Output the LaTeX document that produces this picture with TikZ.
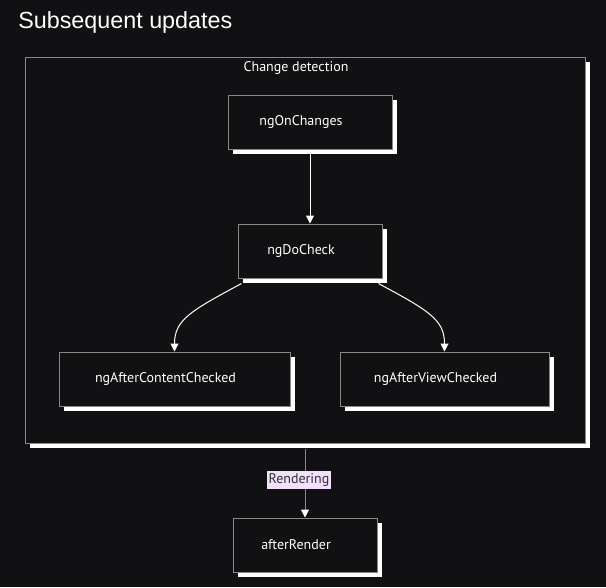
\documentclass[tikz,border=0pt]{standalone}
\usepackage{fontspec}
\setmainfont{PT Sans}
\newfontfamily\titlefont{Liberation Sans}
\usetikzlibrary{arrows.meta,shadows}
\newdimen\pxu \pxu=0.75pt
\definecolor{bgc}{RGB}{17,17,19}
\definecolor{edgec}{RGB}{136,136,136}
\definecolor{lblc}{RGB}{243,224,252}
\tikzset{
  box/.style={draw=edgec, line width=1\pxu, fill=bgc, text=white, inner sep=0pt,
    minimum height=54\pxu, font=\fontsize{10.5pt}{12pt}\selectfont,
    execute at end node=\hspace*{18\pxu},
    drop shadow={shadow xshift=5\pxu, shadow yshift=-5\pxu, fill=white, opacity=1}},
  conn/.style={draw=white, line width=1\pxu, -{Triangle[width=6pt,length=6pt]}},
}
\begin{document}
\begin{tikzpicture}[x=0.75pt, y=-0.75pt]
    \fill[bgc] (0,0) rectangle (606,587);
    \node[anchor=base west, inner sep=0pt, text=white, font=\titlefont\fontsize{17.5pt}{20pt}\selectfont] (title) at (18,28) {Subsequent updates};
    \node[box, minimum width=560\pxu, minimum height=386\pxu] (cd) at (305,250) {};
    \node[text=white, font=\fontsize{10.5pt}{12pt}\selectfont] (cdlbl) at (296,68) {Change detection};
    \node[box, minimum width=164\pxu] (onchg) at (310,122) {ngOnChanges};
    \node[box, minimum width=144\pxu] (docheck) at (310,251) {ngDoCheck};
    \node[box, minimum width=231\pxu] (acc) at (174.5,379) {ngAfterContentChecked};
    \node[box, minimum width=209\pxu] (avc) at (444.5,379) {ngAfterViewChecked};
    \node[box, minimum width=144\pxu] (render) at (305,545) {afterRender};
    \draw[conn] (onchg) -- (docheck);
    \draw[conn] ([shift={(4,5)}]docheck.south west) .. controls +(-50,27) and +(0,-32) .. (acc.north);
    \draw[conn] ([shift={(-4,5)}]docheck.south east) .. controls +(50,27) and +(0,-32) .. (avc.north);
    \draw[conn, draw=edgec, -{Triangle[width=6pt,length=6pt,color=white]}] ([shift={(0,5)}]cd.south) -- (render.north)
        node[pos=0.457, xshift=-6\pxu, fill=lblc, text=black!80, inner xsep=1pt, inner ysep=3\pxu, font=\fontsize{10.5pt}{12pt}\selectfont] (rlbl) {Rendering};
\end{tikzpicture}
\end{document}
